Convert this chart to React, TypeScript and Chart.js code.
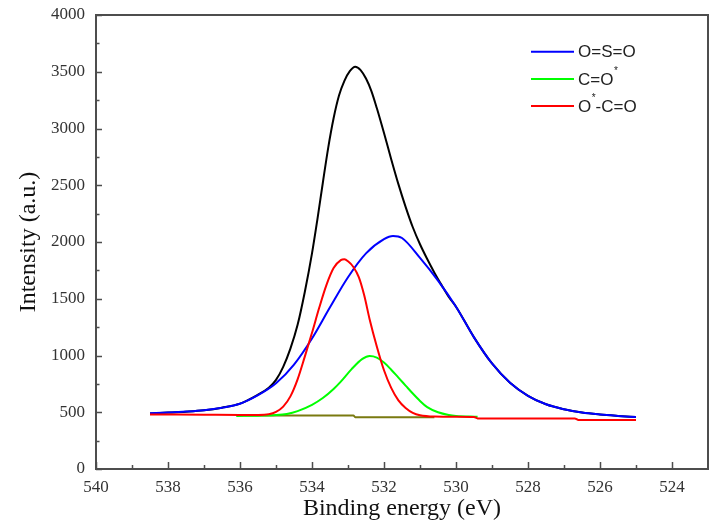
import React, { useEffect, useRef } from "react";
import { Chart, registerables } from "chart.js";

Chart.register(...registerables);

// ---- Data ----
const xTickValues = [540, 538, 536, 534, 532, 530, 528, 526, 524];
const xMinorTicks = [539, 537, 535, 533, 531, 529, 527, 525];
const yTickValues = [0, 500, 1000, 1500, 2000, 2500, 3000, 3500, 4000];
const yMinorTicks = [250, 750, 1250, 1750, 2250, 2750, 3250, 3750];

const envelopeX = [538.5, 538, 537.5, 537, 536.5, 536, 535.5, 535.2, 535, 534.8, 534.6, 534.4, 534.2, 534, 533.85, 533.7, 533.55, 533.4, 533.25, 533.1, 532.95, 532.8, 532.65, 532.5, 532.35, 532.2, 532, 531.8, 531.6, 531.4, 531.2, 531, 530.8, 530.6, 530.4, 530.2, 530, 529.5, 529, 528.5, 528, 527.5, 527, 526.5, 526, 525.5, 525];
const envelopeY = [490, 497, 505, 517, 540, 576, 655, 715, 785, 900, 1060, 1270, 1560, 1900, 2200, 2520, 2830, 3090, 3290, 3420, 3505, 3545, 3515, 3440, 3330, 3180, 2960, 2730, 2510, 2310, 2130, 1980, 1850, 1730, 1620, 1515, 1430, 1160, 930, 760, 645, 570, 526, 497, 480, 468, 458];

const osoX = [538.5, 538, 537.5, 537, 536.5, 536, 535.5, 535, 534.5, 534, 533.5, 533, 532.5, 532, 531.75, 531.5, 531, 530.5, 530, 529.5, 529, 528.5, 528, 527.5, 527, 526.5, 526, 525.5, 525];
const osoY = [492, 498, 506, 518, 540, 575, 650, 755, 920, 1150, 1425, 1690, 1900, 2025, 2053, 2035, 1860, 1660, 1430, 1160, 930, 760, 645, 570, 526, 497, 480, 468, 458];

const coX = [536.1, 535.5, 535, 534.7, 534.4, 534, 533.7, 533.4, 533.2, 532.9, 532.6, 532.4, 532.2, 532, 531.8, 531.6, 531.4, 531.2, 531, 530.8, 530.5, 530.2, 530, 529.4];
const coY = [468, 470, 475, 485, 510, 565, 625, 705, 770, 880, 970, 996, 982, 938, 875, 805, 735, 665, 600, 545, 500, 476, 468, 460];

const ococX = [538.5, 537, 536, 535.5, 535.2, 535, 534.8, 534.6, 534.4, 534.2, 534, 533.8, 533.6, 533.4, 533.2, 533.1, 533, 532.85, 532.7, 532.55, 532.4, 532.2, 532, 531.8, 531.6, 531.4, 531.2, 531, 530.6, 530, 529.5, 529.4, 526.7, 526.6, 525];
const ococY = [481, 478, 476, 476, 482, 503, 550, 640, 790, 990, 1200, 1420, 1620, 1770, 1840, 1847, 1830, 1780, 1690, 1530, 1320, 1080, 870, 715, 605, 538, 495, 474, 462, 460, 458, 446, 446, 432, 432];

const baselineX = [536.1, 532.85, 532.8, 530.6];
const baselineY = [472, 472, 457, 455];

const legendLabels = [
  { color: "#0000ff", parts: [["O=S=O", false]] },
  { color: "#00ff00", parts: [["C=O", false], ["*", true]] },
  { color: "#ff0000", parts: [["O", false], ["*", true], ["-C=O", false]] },
];

const serif = "'Liberation Serif', 'Times New Roman', serif";
const sans = "'Liberation Sans', Arial, sans-serif";

const pts = (xs: number[], ys: number[]) => xs.map((x, i) => ({ x, y: ys[i] }));

const framePlugin = {
  id: "frameTicks",
  afterDraw(chart: any) {
    const { ctx, chartArea: a, scales } = chart;
    ctx.save();
    ctx.strokeStyle = "#4d4d4d";
    ctx.lineWidth = 2;
    ctx.strokeRect(a.left, a.top, a.right - a.left, a.bottom - a.top);
    ctx.lineWidth = 1.5;
    ctx.beginPath();
    xTickValues.forEach((v) => {
      const px = Math.round(scales.x.getPixelForValue(v)) + 0.5;
      ctx.moveTo(px, a.bottom);
      ctx.lineTo(px, a.bottom - 7);
    });
    xMinorTicks.forEach((v) => {
      const px = Math.round(scales.x.getPixelForValue(v)) + 0.5;
      ctx.moveTo(px, a.bottom);
      ctx.lineTo(px, a.bottom - 4);
    });
    yTickValues.forEach((v) => {
      const py = Math.round(scales.y.getPixelForValue(v)) + 0.5;
      ctx.moveTo(a.left, py);
      ctx.lineTo(a.left + 6, py);
    });
    yMinorTicks.forEach((v) => {
      const py = Math.round(scales.y.getPixelForValue(v)) + 0.5;
      ctx.moveTo(a.left, py);
      ctx.lineTo(a.left + 3.5, py);
    });
    ctx.stroke();
    ctx.restore();
  },
};

const legendPlugin = {
  id: "customLegend",
  afterDraw(chart: any) {
    const { ctx, chartArea: a } = chart;
    ctx.save();
    const x0 = a.right - 177;
    const y0 = a.top + 36.7;
    const rowH = 27.2;
    legendLabels.forEach((item, i) => {
      const y = y0 + i * rowH;
      ctx.strokeStyle = item.color;
      ctx.lineWidth = 2;
      ctx.beginPath();
      ctx.moveTo(x0, y);
      ctx.lineTo(x0 + 43, y);
      ctx.stroke();
      let tx = x0 + 47;
      ctx.fillStyle = "#222";
      ctx.textBaseline = "middle";
      ctx.textAlign = "left";
      item.parts.forEach(([text, sup]) => {
        if (sup) {
          ctx.font = `10px ${sans}`;
          ctx.fillText(text as string, tx + 0.5, y - 8);
          tx += ctx.measureText(text as string).width + 0.5;
        } else {
          ctx.font = `17px ${sans}`;
          ctx.fillText(text as string, tx, y + 1);
          tx += ctx.measureText(text as string).width;
        }
      });
    });
    ctx.restore();
  },
};

const App = () => {
  const ref = useRef<HTMLCanvasElement>(null);
  useEffect(() => {
    document.body.style.margin = "0";
    const line = (label: string, xs: number[], ys: number[], color: string) => ({
      label,
      data: pts(xs, ys),
      borderColor: color,
      backgroundColor: color,
      borderWidth: 2,
      pointRadius: 0,
      fill: false,
      cubicInterpolationMode: "monotone" as const,
    });
    const chart = new Chart(ref.current as HTMLCanvasElement, {
      type: "line",
      data: {
        datasets: [
          line("O*-C=O", ococX, ococY, "#ff0000"),
          line("C=O*", coX, coY, "#00ff00"),
          line("O=S=O", osoX, osoY, "#0000ff"),
          line("Envelope", envelopeX, envelopeY, "#000000"),
          line("Background", baselineX, baselineY, "#7a7a10"),
        ],
      },
      options: {
        responsive: false,
        animation: false,
        layout: { padding: { top: 15, right: 11, left: 0, bottom: 0 } },
        plugins: { legend: { display: false }, tooltip: { enabled: false } },
        scales: {
          x: {
            type: "linear",
            min: 523,
            max: 540,
            reverse: true,
            afterBuildTicks: (s: any) => {
              s.ticks = xTickValues.map((v) => ({ value: v }));
            },
            afterFit: (s: any) => {
              s.height = 57;
              s.paddingLeft = 0;
              s.paddingRight = 0;
            },
            grid: { display: false, drawTicks: false },
            border: { display: false },
            ticks: {
              font: { family: serif, size: 17 },
              color: "#333",
              padding: 8,
              maxRotation: 0,
              autoSkip: false,
              callback: (v: any) => String(v),
            },
            title: {
              display: true,
              text: "Binding energy (eV)",
              font: { family: serif, size: 24 },
              color: "#111",
              padding: { top: 0, bottom: 3 },
            },
          },
          y: {
            type: "linear",
            min: 0,
            max: 4000,
            afterBuildTicks: (s: any) => {
              s.ticks = yTickValues.map((v) => ({ value: v }));
            },
            afterFit: (s: any) => {
              s.width = 96;
              s.paddingTop = 0;
              s.paddingBottom = 0;
            },
            grid: { display: false, drawTicks: false },
            border: { display: false },
            ticks: {
              font: { family: serif, size: 17 },
              color: "#333",
              padding: 11,
              autoSkip: false,
              callback: (v: any) => String(v),
            },
            title: {
              display: true,
              text: "Intensity (a.u.)",
              font: { family: serif, size: 24 },
              color: "#111",
              padding: { top: 14, bottom: 0 },
            },
          },
        },
      },
      plugins: [framePlugin, legendPlugin],
    });
    return () => chart.destroy();
  }, []);
  return <canvas ref={ref} width={719} height={526} style={{ display: "block" }} />;
};

export default App;
